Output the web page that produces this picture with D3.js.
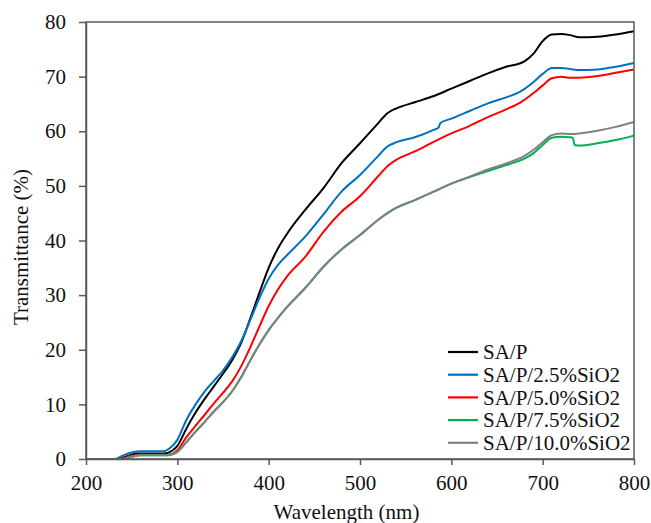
<!DOCTYPE html>
<html>
<head>
<meta charset="utf-8">
<script src="https://cdn.jsdelivr.net/npm/d3@7/dist/d3.min.js"></script>
<style>
  html, body { margin: 0; padding: 0; background: #fff; }
  svg { display: block; }
  text { font-family: "Liberation Serif", "Times New Roman", serif; fill: #111; }
</style>
</head>
<body>
<script>
// ---------- data ----------
const seriesNames = ["SA/P", "SA/P/2.5%SiO2", "SA/P/5.0%SiO2", "SA/P/7.5%SiO2", "SA/P/10.0%SiO2"];
const seriesColors = ["#000000", "#0070C0", "#FF0000", "#00B050", "#808080"];
const xTicks = [200, 300, 400, 500, 600, 700, 800];
const yTicks = [0, 10, 20, 30, 40, 50, 60, 70, 80];

const saP = [[200,0],[235,0],[245,0.5],[255,1.0],[285,1.0],[295,1.6],[300,2.4],[310,5.6],[320,8.5],[330,11],[340,13.3],[350,15.6],[360,18.1],[370,21.3],[380,25.8],[390,30.5],[400,35],[410,38.5],[420,41.2],[440,45.6],[460,49.6],[480,54.2],[500,57.8],[520,61.5],[530,63.3],[540,64.2],[560,65.3],[580,66.4],[600,67.8],[620,69.2],[640,70.6],[660,71.8],[680,72.8],[690,74.2],[700,76.5],[710,77.7],[720,77.8],[730,77.6],[740,77.2],[760,77.3],[780,77.7],[800,78.3]];
const saP25 = [[200,0],[232,0],[240,0.6],[250,1.2],[260,1.4],[285,1.4],[292,2],[300,3.5],[310,7.2],[320,10],[330,12.4],[340,14.3],[350,16.2],[360,18.6],[370,21.6],[380,25.5],[390,29.5],[400,33],[410,35.5],[420,37.3],[440,40.7],[460,44.8],[480,49],[500,52],[520,55.5],[530,57.2],[540,58],[560,58.9],[580,60.2],[586,60.7],[588,61.5],[600,62.3],[620,63.7],[640,65.1],[660,66.2],[675,67.2],[690,69],[700,70.5],[710,71.6],[720,71.6],[730,71.4],[740,71.2],[760,71.3],[780,71.8],[800,72.5]];
const saP50 = [[200,0],[238,0],[250,0.6],[260,0.8],[290,0.8],[300,1.6],[310,4],[320,6.1],[330,8.1],[340,10.2],[350,12.1],[360,14.2],[370,17],[380,20.5],[390,24.3],[400,28],[410,31],[420,33.4],[440,37],[460,41.6],[480,45.3],[500,48.1],[520,51.8],[530,53.6],[540,54.8],[560,56.3],[580,58],[600,59.6],[620,61],[640,62.6],[660,64],[675,65.2],[690,67],[700,68.4],[710,69.7],[720,70],[730,69.8],[740,69.8],[760,70.1],[780,70.7],[800,71.3]];
const saP75 = [[200,0],[240,0],[250,0.4],[260,0.7],[290,0.7],[300,1.3],[310,3.1],[320,5],[330,6.8],[340,8.7],[350,10.4],[360,12.4],[370,15],[380,18.1],[390,21],[400,23.6],[410,25.8],[420,27.8],[440,31.3],[460,35.2],[480,38.4],[500,41],[520,43.8],[530,45],[540,46],[560,47.4],[580,48.9],[600,50.4],[620,51.6],[640,52.7],[660,53.8],[680,55],[690,56],[700,57.5],[710,58.8],[720,59],[730,58.9],[733,58.8],[735,57.5],[740,57.4],[760,57.8],[780,58.4],[800,59.2]];
const saP100 = [[200,0],[240,0],[250,0.4],[260,0.7],[290,0.7],[300,1.3],[310,3.1],[320,5],[330,6.8],[340,8.7],[350,10.4],[360,12.4],[370,15],[380,18.1],[390,21],[400,23.6],[410,25.8],[420,27.8],[440,31.3],[460,35.2],[480,38.4],[500,41],[520,43.8],[530,45],[540,46],[560,47.4],[580,48.9],[600,50.4],[620,51.7],[640,53],[660,54.1],[680,55.5],[690,56.6],[700,58],[710,59.3],[720,59.6],[730,59.5],[740,59.6],[760,60.1],[780,60.8],[800,61.7]];
const seriesData = [saP, saP25, saP50, saP75, saP100];

// ---------- layout ----------
const W = 651, H = 523;
const M = { left: 86, right: 634, top: 22, bottom: 459 };

const svg = d3.select("body").append("svg").attr("width", W).attr("height", H);

const x = d3.scaleLinear().domain([200, 800]).range([M.left, M.right]);
const y = d3.scaleLinear().domain([0, 80]).range([M.bottom, M.top]);

const line = d3.line().x(d => x(d[0])).y(d => y(d[1])).curve(d3.curveMonotoneX);
const order = [0, 1, 2, 3, 4];
svg.append("g").selectAll("path").data(order).join("path")
  .attr("d", i => line(seriesData[i]))
  .attr("fill", "none")
  .attr("stroke", i => seriesColors[i])
  .attr("stroke-width", 2)
  .attr("stroke-linejoin", "round");

// frame
const frameColor = "#595959";
svg.append("rect")
  .attr("x", M.left).attr("y", M.top)
  .attr("width", M.right - M.left).attr("height", M.bottom - M.top)
  .attr("fill", "none").attr("stroke", frameColor).attr("stroke-width", 1.5);

// axes
const xAxis = d3.axisBottom(x).tickValues(xTicks).tickSize(6).tickSizeOuter(0).tickPadding(10);
const yAxis = d3.axisLeft(y).tickValues(yTicks).tickSize(7).tickSizeOuter(0).tickPadding(13);

const gx = svg.append("g").attr("transform", `translate(0,${M.bottom})`).call(xAxis);
const gy = svg.append("g").attr("transform", `translate(${M.left},0)`).call(yAxis);
[gx, gy].forEach(g => {
  g.select(".domain").attr("stroke", frameColor).attr("stroke-width", 1.5);
  g.selectAll(".tick line").attr("stroke", frameColor).attr("stroke-width", 1.5);
  g.selectAll(".tick text").attr("font-family", "Liberation Serif, serif")
    .attr("font-size", 21).attr("fill", "#111");
});

// axis titles
svg.append("text")
  .attr("x", 346.5)
  .attr("y", 519)
  .attr("text-anchor", "middle")
  .attr("font-size", 21)
  .text("Wavelength (nm)");

svg.append("text")
  .attr("transform", "translate(28,247) rotate(-90)")
  .attr("text-anchor", "middle")
  .attr("font-size", 21)
  .text("Transmittance (%)");

// legend
const lg = svg.append("g");
const legY0 = 352, legDY = 22.7;
seriesNames.forEach((name, i) => {
  const yy = legY0 + i * legDY;
  lg.append("line")
    .attr("x1", 448).attr("x2", 478).attr("y1", yy).attr("y2", yy)
    .attr("stroke", seriesColors[i]).attr("stroke-width", 2.2);
  lg.append("text")
    .attr("x", 483).attr("y", yy).attr("dy", "0.35em")
    .attr("font-size", 21)
    .text(name);
});
</script>
</body>
</html>
